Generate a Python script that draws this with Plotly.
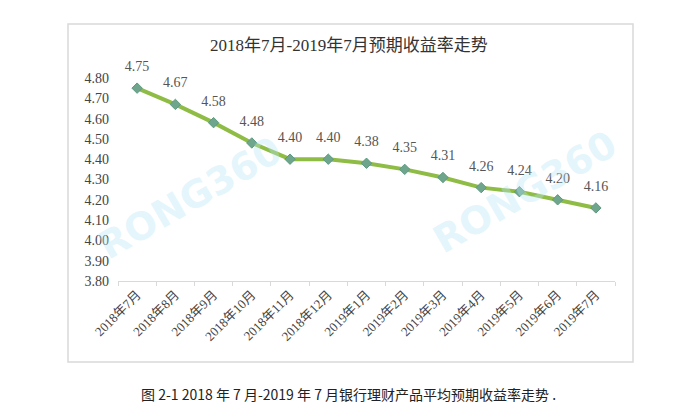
import plotly.graph_objects as go

categories = ["2018年7月", "2018年8月", "2018年9月", "2018年10月", "2018年11月", "2018年12月",
              "2019年1月", "2019年2月", "2019年3月", "2019年4月", "2019年5月", "2019年6月", "2019年7月"]
values = [4.75, 4.67, 4.58, 4.48, 4.40, 4.40, 4.38, 4.35, 4.31, 4.26, 4.24, 4.20, 4.16]
y_ticks = [3.80, 3.90, 4.00, 4.10, 4.20, 4.30, 4.40, 4.50, 4.60, 4.70, 4.80]

title_text = "2018年7月-2019年7月预期收益率走势"
caption_text = "图 2-1 2018 年 7 月-2019 年 7 月银行理财产品平均预期收益率走势 ."
watermark = "RONG360"

SERIF = "Liberation Serif, Noto Sans CJK SC, serif"
SANS = "Noto Sans CJK SC, sans-serif"

fig = go.Figure()
fig.add_trace(go.Scatter(
    x=categories, y=values,
    mode="lines+markers",
    line=dict(color="#8fbc45", width=4),
    marker=dict(symbol="diamond", size=8, color="#6fa58c", line=dict(color="#5d9a80", width=1)),
    hoverinfo="skip",
))
# data labels (transparent larger marker to lift labels above the points)
fig.add_trace(go.Scatter(
    x=categories, y=values,
    mode="markers+text",
    marker=dict(size=20, color="rgba(0,0,0,0)"),
    text=[f"{v:.2f}" for v in values],
    textposition="top center",
    textfont=dict(family=SERIF, size=14, color="#555555"),
    cliponaxis=False,
    hoverinfo="skip",
))

L, R, T, B = 118, 615, 78, 281
W, H = 700, 419
pw, ph = R - L, B - T

def px(x):
    return (x - L) / pw

def py(y):
    return (B - y) / ph

fig.update_layout(
    width=W, height=H,
    margin=dict(l=L, r=W - R, t=T, b=H - B, pad=0),
    paper_bgcolor="white", plot_bgcolor="white",
    showlegend=False,
    xaxis=dict(
        type="category",
        range=[-0.5, len(categories) - 0.5],
        showgrid=False, zeroline=False,
        showline=True, linecolor="#d9d9d9", linewidth=1,
        ticks="outside", ticklen=4, tickcolor="#d9d9d9", tickson="boundaries",
        tickangle=-45,
        tickfont=dict(family=SERIF, size=13, color="#444444"),
    ),
    yaxis=dict(
        range=[3.8, 4.8],
        tickvals=y_ticks,
        tickformat=".2f",
        showgrid=False, zeroline=False, showline=False,
        ticks="", ticklabelstandoff=8,
        tickfont=dict(family=SERIF, size=14, color="#444444"),
    ),
    shapes=[
        dict(type="rect", xref="paper", yref="paper",
             x0=px(68), x1=px(633), y0=py(362), y1=py(24),
             line=dict(color="#d9d9d9", width=1.5), fillcolor="rgba(0,0,0,0)", layer="below"),
    ],
    annotations=[
        dict(text=title_text, xref="paper", yref="paper", x=px(349), y=py(45),
             showarrow=False, xanchor="center", yanchor="middle",
             font=dict(family=SERIF, size=17, color="#333333")),
        dict(text=caption_text, xref="paper", yref="paper", x=px(348), y=py(394),
             showarrow=False, xanchor="center", yanchor="middle",
             font=dict(family=SANS, size=14, color="#222222")),
        dict(text="<b>" + watermark + "</b>", xref="paper", yref="paper", x=px(190), y=py(198),
             showarrow=False, textangle=-30, xanchor="center", yanchor="middle",
             font=dict(family="DejaVu Sans", size=38, color="rgba(185,232,245,0.40)")),
        dict(text="<b>" + watermark + "</b>", xref="paper", yref="paper", x=px(525), y=py(192),
             showarrow=False, textangle=-30, xanchor="center", yanchor="middle",
             font=dict(family="DejaVu Sans", size=38, color="rgba(185,232,245,0.40)")),
    ],
)

fig.write_html("out.html")
